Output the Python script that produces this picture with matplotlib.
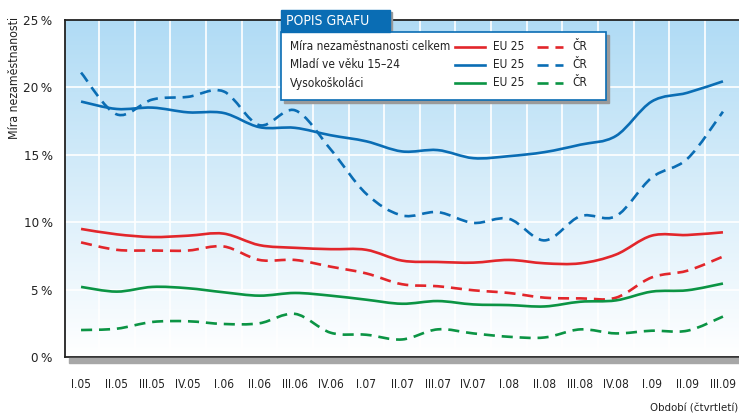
import numpy as np
import matplotlib
matplotlib.use("Agg")
import matplotlib.pyplot as plt
from matplotlib.path import Path
from matplotlib.patches import PathPatch, Rectangle
from matplotlib.lines import Line2D

plt.rcParams["font.family"] = ["DejaVu Sans"]
plt.rcParams["font.stretch"] = "condensed"

quarters = ["I.05", "II.05", "III.05", "IV.05", "I.06", "II.06", "III.06", "IV.06",
            "I.07", "II.07", "III.07", "IV.07", "I.08", "II.08", "III.08", "IV.08",
            "I.09", "II.09", "III.09"]

total_eu = [9.5, 9.1, 8.9, 9.0, 9.15, 8.3, 8.1, 8.0, 7.95, 7.15, 7.05, 7.0, 7.2, 6.95, 6.95, 7.6, 9.0, 9.05, 9.25]
total_cz = [8.5, 7.95, 7.9, 7.9, 8.2, 7.2, 7.2, 6.7, 6.2, 5.4, 5.25, 4.95, 4.75, 4.4, 4.35, 4.4, 5.9, 6.4, 7.45]
youth_eu = [18.95, 18.4, 18.5, 18.15, 18.1, 17.05, 17.0, 16.45, 16.0, 15.25, 15.35, 14.75, 14.9, 15.2, 15.75, 16.4, 18.95, 19.6, 20.45]
youth_cz = [21.1, 18.0, 19.1, 19.3, 19.7, 17.2, 18.3, 15.4, 12.1, 10.5, 10.75, 9.95, 10.25, 8.65, 10.45, 10.45, 13.3, 14.7, 18.2]
grad_eu = [5.2, 4.85, 5.2, 5.1, 4.8, 4.55, 4.75, 4.55, 4.25, 3.95, 4.15, 3.9, 3.85, 3.75, 4.1, 4.2, 4.85, 4.95, 5.45]
grad_cz = [2.0, 2.1, 2.6, 2.65, 2.45, 2.5, 3.2, 1.8, 1.65, 1.3, 2.05, 1.75, 1.5, 1.45, 2.05, 1.75, 1.95, 1.95, 3.0]
y_ticks = [0, 5, 10, 15, 20, 25]

RED = "#e2262b"
BLUE = "#0a6db4"
GREEN = "#0b9444"
DASH = (0, (4.2, 2.6))
TXT = "#222222"

W, H = 739, 415


def fx(px):
    return px / W


def fy(py):
    return 1 - py / H


def smooth_path(xs, ys):
    # Catmull-Rom through the points, written as cubic Bezier segments
    p = np.column_stack([xs, ys]).astype(float)
    ext = np.vstack([p[0], p, p[-1]])
    verts = [p[0]]
    codes = [Path.MOVETO]
    for i in range(len(p) - 1):
        p0, p1, p2, p3 = ext[i], ext[i + 1], ext[i + 2], ext[i + 3]
        verts += [p1 + (p2 - p0) / 6, p2 - (p3 - p1) / 6, p2]
        codes += [Path.CURVE4] * 3
    return Path(verts, codes)


fig = plt.figure(figsize=(W / 100, H / 100), dpi=100)
ax = fig.add_axes([fx(65), fy(357), fx(739) - fx(65), fy(20) - fy(357)])

x = np.arange(len(quarters))
ax.set_xlim(-0.45, len(quarters) - 0.55)
ax.set_ylim(0, 25)

# gradient background
grad = np.linspace(0, 1, 256).reshape(-1, 1)
top = np.array([0.69, 0.86, 0.96])
bot = np.array([1.0, 1.0, 1.0])
img = bot + (top - bot) * grad[:, :, None] * np.ones((1, 1, 3))
ax.imshow(img, extent=[-0.45, len(quarters) - 0.55, 0, 25], origin="lower",
          aspect="auto", zorder=0)

for gx in np.arange(0.5, len(quarters), 1.0):
    ax.axvline(gx, color="white", lw=1.2, zorder=1)
for gy in y_ticks[1:-1]:
    ax.axhline(gy, color="white", lw=1.2, zorder=1)

series = [
    (youth_cz, BLUE, DASH),
    (youth_eu, BLUE, "-"),
    (total_cz, RED, DASH),
    (total_eu, RED, "-"),
    (grad_cz, GREEN, DASH),
    (grad_eu, GREEN, "-"),
]
for ys, color, ls in series:
    ax.add_patch(PathPatch(smooth_path(x, ys), fill=False, edgecolor=color,
                           lw=1.9, linestyle=ls, capstyle="butt", zorder=3))

ax.set_xticks(x)
ax.set_xticklabels(quarters, fontsize=8.6, color=TXT)
ax.set_yticks(y_ticks)
ax.set_yticklabels([f"{v}\u2009%" for v in y_ticks], fontsize=9.6, color=TXT)
ax.tick_params(axis="x", length=0, pad=15)
ax.tick_params(axis="y", length=0, pad=9)
for s in ["left", "top", "bottom"]:
    ax.spines[s].set_color(TXT)
    ax.spines[s].set_linewidth(1.3)
ax.spines["right"].set_visible(False)

# shadow under the bottom axis
fig.patches.append(Rectangle((fx(69), fy(363)), fx(739) - fx(69), fy(358) - fy(363),
                             transform=fig.transFigure, color="#a7a7a7", zorder=0))

fig.text(fx(15), fy(17), "Míra nezaměstnanosti", rotation=90, ha="center", va="top",
         fontsize=8.8, color=TXT)
fig.text(fx(738), fy(408), "Období (čtvrtletí)", ha="right", va="center",
         fontsize=8.2, color=TXT)

# legend box
fig.patches.append(Rectangle((fx(284), fy(103)), fx(609) - fx(284), fy(35) - fy(103),
                             transform=fig.transFigure, color="#9a9a9a", zorder=4))
fig.patches.append(Rectangle((fx(281), fy(100)), fx(606) - fx(281), fy(32) - fy(100),
                             transform=fig.transFigure, facecolor="white",
                             edgecolor=BLUE, lw=1.2, zorder=5))
fig.patches.append(Rectangle((fx(283), fy(34)), fx(392) - fx(283), fy(12) - fy(34),
                             transform=fig.transFigure, color="#9a9a9a", zorder=4))
fig.patches.append(Rectangle((fx(281), fy(32)), fx(390) - fx(281), fy(10) - fy(32),
                             transform=fig.transFigure, color=BLUE, zorder=5))
fig.text(fx(286), fy(21), "POPIS GRAFU", color="white", fontsize=10,
         ha="left", va="center", zorder=6)

rows = [("Míra nezaměstnanosti celkem", RED),
        ("Mladí ve věku 15–24", BLUE),
        ("Vysokoškoláci", GREEN)]
for i, (label, color) in enumerate(rows):
    yy = fy(47 + 18 * i)
    fig.text(fx(290), yy, label, fontsize=8.6, ha="left", va="center", color=TXT, zorder=6)
    fig.lines.append(Line2D([fx(455), fx(485)], [yy, yy], transform=fig.transFigure,
                            color=color, lw=1.9, zorder=6))
    fig.text(fx(493), yy, "EU 25", fontsize=8.6, ha="left", va="center", color=TXT, zorder=6)
    fig.lines.append(Line2D([fx(537), fx(563)], [yy, yy], transform=fig.transFigure,
                            color=color, lw=1.9, linestyle=DASH, zorder=6))
    fig.text(fx(572), yy, "ČR", fontsize=8.6, ha="left", va="center", color=TXT, zorder=6)

fig.savefig("out.png", dpi=100)
